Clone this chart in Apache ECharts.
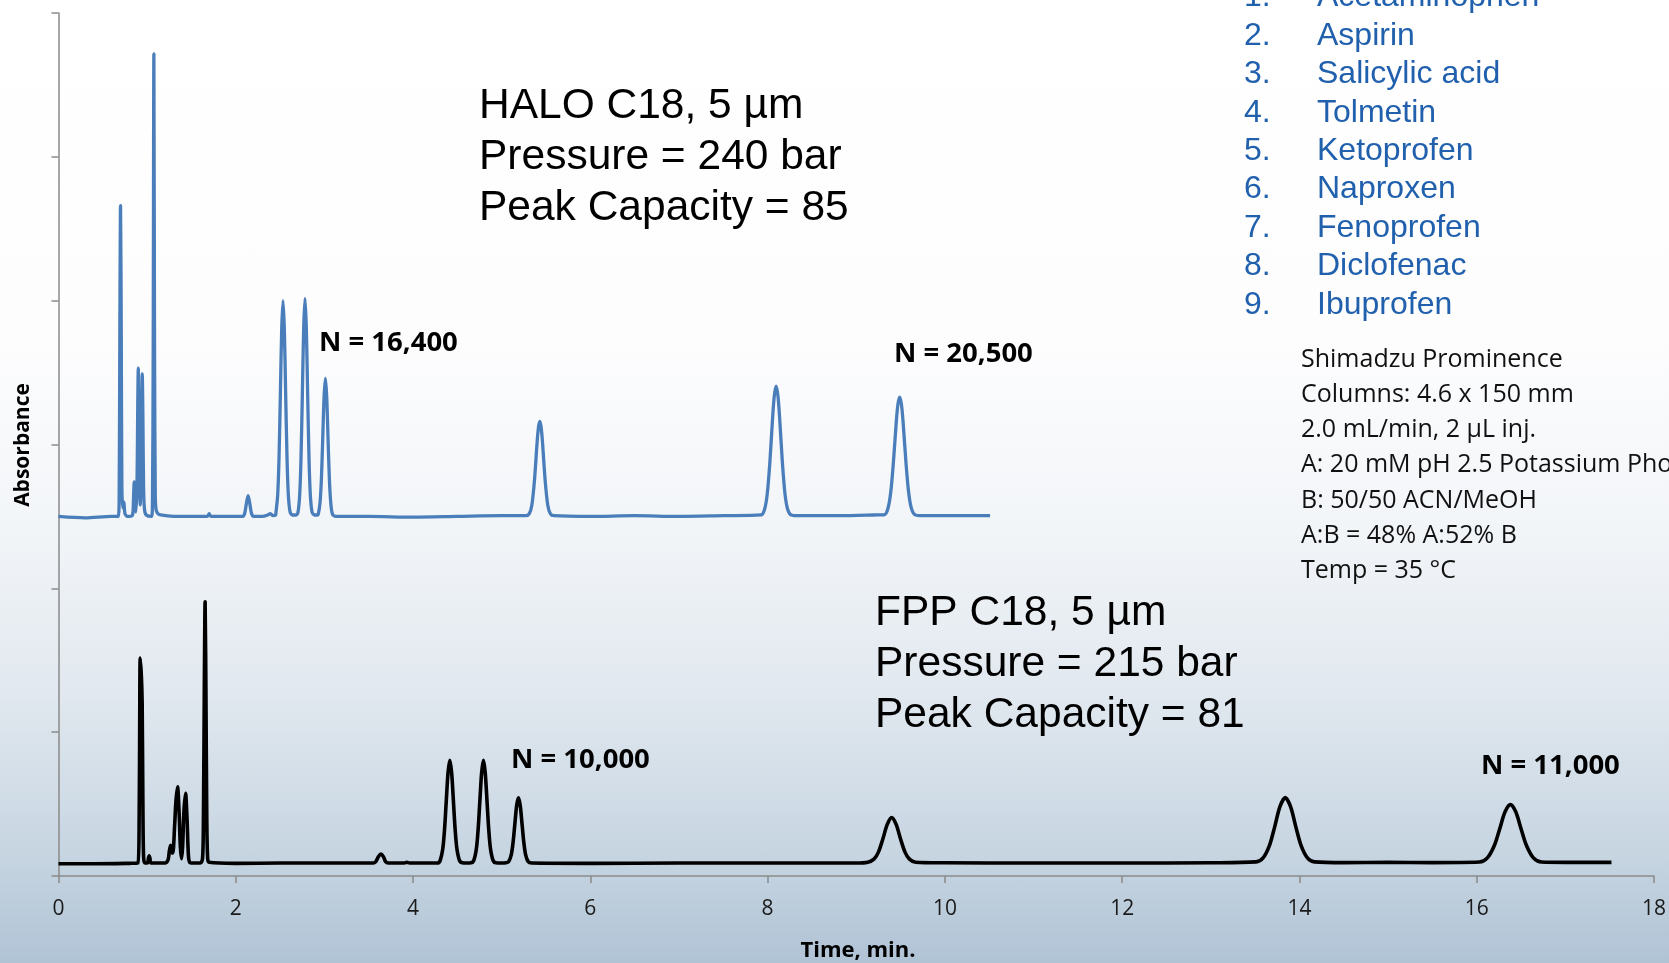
<!DOCTYPE html>
<html><head><meta charset="utf-8">
<script src="https://cdn.jsdelivr.net/npm/echarts@6/dist/echarts.min.js"></script>
<style>
html,body{margin:0;padding:0;width:1669px;height:963px;overflow:hidden;}
#c{width:1669px;height:963px;background:linear-gradient(to bottom,#ffffff 0%,#fdfdfe 35%,#f2f5f8 55%,#e1e8ef 72%,#c8d6e2 88%,#b0c3d5 100%);}
</style></head><body><div id="c"></div>
<script>
// HALO C18 trace: [time (min), absorbance (offset units)]
const haloTrace = [[0,2.50],[0.3,2.49],[0.6,2.50],[0.675,2.50],[0.685,2.70],[0.692,3.80],[0.70,4.66],[0.708,3.80],[0.715,2.70],[0.725,2.56],[0.738,2.60],[0.75,2.52],[0.78,2.50],[0.835,2.51],[0.845,2.60],[0.854,2.74],[0.863,2.60],[0.872,2.53],[0.885,2.70],[0.893,3.20],[0.90,3.53],[0.907,3.20],[0.914,2.80],[0.922,2.58],[0.93,2.80],[0.938,3.20],[0.945,3.49],[0.952,3.20],[0.96,2.70],[0.97,2.55],[0.99,2.51],[1.05,2.50],[1.06,2.60],[1.068,3.60],[1.076,5.715],[1.084,3.60],[1.092,2.65],[1.10,2.55],[1.12,2.52],[1.15,2.51],[1.3,2.50],[1.5,2.50],[1.68,2.50],[1.70,2.52],[1.72,2.50],[2.0,2.50],[2.08,2.50],[2.10,2.52],[2.12,2.59],[2.139,2.645],[2.158,2.59],[2.178,2.52],[2.20,2.50],[2.3,2.50],[2.36,2.51],[2.39,2.52],[2.42,2.505],[2.45,2.51],
[2.453,2.525],[2.473,2.65],[2.488,2.91],[2.503,3.345],[2.518,3.80],[2.533,4.00],[2.548,3.80],[2.563,3.345],[2.578,2.91],[2.593,2.65],[2.613,2.53],[2.64,2.51],[2.68,2.51],
[2.701,2.525],[2.721,2.65],[2.736,2.91],[2.751,3.345],[2.766,3.81],[2.781,4.015],[2.796,3.81],[2.811,3.345],[2.826,2.91],[2.841,2.65],[2.861,2.53],[2.89,2.51],[2.92,2.51],
[2.931,2.516],[2.951,2.60],[2.966,2.76],[2.981,3.04],[2.996,3.33],[3.011,3.46],[3.026,3.33],[3.041,3.04],[3.056,2.76],[3.071,2.60],[3.091,2.516],[3.13,2.50],
[3.5,2.50],[4.0,2.495],[4.5,2.50],[5.0,2.505],[5.27,2.505],
[5.31,2.518],[5.34,2.578],[5.37,2.753],[5.40,3.019],[5.415,3.12],[5.43,3.16],[5.445,3.12],[5.46,3.019],[5.49,2.753],[5.52,2.578],[5.55,2.518],[5.59,2.505],
[6.0,2.50],[6.5,2.505],[7.0,2.50],[7.5,2.505],[7.926,2.51],
[7.966,2.55],[7.996,2.657],[8.026,2.881],[8.056,3.182],[8.076,3.342],[8.096,3.405],[8.116,3.342],[8.136,3.182],[8.166,2.881],[8.196,2.657],[8.226,2.55],[8.266,2.51],[8.35,2.505],
[8.8,2.505],[9.2,2.51],[9.32,2.513],
[9.36,2.561],[9.39,2.673],[9.42,2.883],[9.45,3.144],[9.47,3.279],[9.49,3.33],[9.51,3.279],[9.53,3.144],[9.56,2.883],[9.59,2.673],[9.62,2.561],[9.66,2.513],[9.75,2.505],[10.2,2.505],[10.51,2.505]];

// FPP C18 trace
const fppTrace = [[0,0.085],[0.4,0.085],[0.8,0.088],[0.895,0.09],[0.91,0.40],[0.917,1.20],[0.922,1.515],[0.935,1.39],[0.944,1.20],[0.952,0.50],[0.96,0.13],[0.975,0.09],[1.005,0.092],[1.015,0.125],[1.023,0.14],[1.031,0.125],[1.045,0.09],[1.20,0.09],[1.235,0.11],[1.25,0.17],[1.264,0.214],[1.28,0.16],[1.29,0.16],[1.31,0.35],[1.325,0.52],[1.343,0.62],[1.36,0.45],[1.375,0.20],[1.388,0.12],[1.40,0.20],[1.415,0.45],[1.433,0.575],[1.45,0.40],[1.465,0.15],[1.48,0.095],[1.52,0.09],[1.60,0.09],[1.625,0.12],[1.635,0.40],[1.645,1.30],[1.654,1.907],[1.663,1.30],[1.673,0.40],[1.683,0.12],[1.70,0.095],[2.0,0.088],[2.5,0.09],[3.0,0.09],
[3.55,0.09],[3.58,0.10],[3.61,0.135],[3.637,0.153],[3.665,0.135],[3.69,0.10],[3.72,0.09],[3.90,0.09],[3.93,0.095],[3.96,0.09],
[4.275,0.09],[4.305,0.106],[4.335,0.187],[4.355,0.322],[4.375,0.524],[4.395,0.72],[4.415,0.805],[4.435,0.72],[4.455,0.524],[4.475,0.322],[4.495,0.187],[4.525,0.106],[4.555,0.092],[4.60,0.09],
[4.654,0.092],[4.684,0.106],[4.714,0.187],[4.734,0.322],[4.754,0.524],[4.774,0.72],[4.794,0.805],[4.814,0.72],[4.834,0.524],[4.854,0.322],[4.874,0.187],[4.904,0.106],[4.934,0.092],[4.99,0.09],
[5.049,0.092],[5.079,0.10],[5.109,0.151],[5.129,0.237],[5.149,0.365],[5.169,0.49],[5.189,0.543],[5.209,0.49],[5.229,0.365],[5.249,0.237],[5.269,0.151],[5.299,0.10],[5.339,0.09],
[6.0,0.088],[7.0,0.09],[8.0,0.09],[9.0,0.09],
[9.13,0.096],[9.20,0.117],[9.25,0.166],[9.30,0.257],[9.35,0.359],[9.40,0.406],[9.45,0.359],[9.50,0.257],[9.55,0.166],[9.60,0.117],[9.67,0.096],
[10.0,0.092],[11.0,0.09],[12.0,0.09],[13.0,0.092],
[13.51,0.098],[13.59,0.126],[13.66,0.209],[13.72,0.340],[13.78,0.482],[13.84,0.545],[13.90,0.482],[13.96,0.340],[14.02,0.209],[14.09,0.126],[14.17,0.098],
[14.5,0.093],[15.0,0.095],[15.5,0.093],
[16.03,0.097],[16.12,0.126],[16.20,0.214],[16.26,0.329],[16.32,0.446],[16.38,0.496],[16.44,0.446],[16.50,0.329],[16.56,0.214],[16.64,0.126],[16.73,0.097],[17.0,0.095],[17.52,0.095]];

const haloInfo = ['HALO C18, 5 µm', 'Pressure = 240 bar', 'Peak Capacity = 85'];
const fppInfo = ['FPP C18, 5 µm', 'Pressure = 215 bar', 'Peak Capacity = 81'];
const compounds = ['Acetaminophen','Aspirin','Salicylic acid','Tolmetin','Ketoprofen','Naproxen','Fenoprofen','Diclofenac','Ibuprofen'];
const conditions = ['Shimadzu Prominence','Columns: 4.6 x 150 mm','2.0 mL/min, 2 µL inj.','A: 20 mM pH 2.5 Potassium Phosphate','B: 50/50 ACN/MeOH','A:B = 48% A:52% B','Temp = 35 °C'];
const plateLabels = [
  {text:'N = 16,400', x:319, y:343},
  {text:'N = 20,500', x:894, y:354},
  {text:'N = 10,000', x:511, y:760},
  {text:'N = 11,000', x:1481, y:766}
];
const xTitle = 'Time, min.';
const yTitle = 'Absorbance';

const chart = echarts.init(document.getElementById('c'), null, {renderer:'canvas'});
const g = [];
function txt(text, x, y, font, fill, align, rot) {
  const el = {type:'text', x:x, y:y, z:10, style:{text:text, font:font, fill:fill, textAlign:align||'left', textVerticalAlign:'middle', align:align||'left', verticalAlign:'middle'}};
  if (rot) el.rotation = rot;
  g.push(el);
}
haloInfo.forEach((t,i)=>txt(t, 479, 106 + i*51, '42.5px "Liberation Sans", Arial, sans-serif', '#000'));
fppInfo.forEach((t,i)=>txt(t, 875, 613 + i*51, '42.5px "Liberation Sans", Arial, sans-serif', '#000'));
compounds.forEach((t,i)=>{
  txt((i+1)+'.', 1244, -2.5 + i*38.4, '32px "Liberation Sans", Arial, sans-serif', '#2060ad');
  txt(t, 1317, -2.5 + i*38.4, '32px "Liberation Sans", Arial, sans-serif', '#2060ad');
});
conditions.forEach((t,i)=>txt(t, 1301, 360 + i*35.1, '25px "Open Sans", sans-serif', '#111'));
plateLabels.forEach(p=>txt(p.text, p.x, p.y, 'bold 27.5px "Open Sans", sans-serif', '#000'));
txt(xTitle, 858, 951, 'bold 22px "Open Sans", sans-serif', '#000', 'center');
txt(yTitle, 23, 445, 'bold 21px "Open Sans", sans-serif', '#000', 'center', Math.PI/2);

chart.setOption({
  backgroundColor:'transparent',
  animation:false,
  grid:{left:58.5, right:13, top:13, bottom:87, containLabel:false},
  xAxis:{type:'value', min:0, max:18, interval:2,
    axisLine:{show:true, onZero:false, lineStyle:{color:'#8a8a8a', width:1.5}},
    axisTick:{show:true, inside:false, length:7, lineStyle:{color:'#8a8a8a', width:1.5}},
    axisLabel:{show:true, margin:23, color:'#1a1a1a', fontSize:21, fontFamily:'"Open Sans", sans-serif'},
    splitLine:{show:false}},
  yAxis:{type:'value', min:0, max:6, interval:1,
    axisLine:{show:true, onZero:false, lineStyle:{color:'#8a8a8a', width:1.5}},
    axisTick:{show:true, inside:false, length:7, lineStyle:{color:'#8a8a8a', width:1.5}},
    axisLabel:{show:false},
    splitLine:{show:false}},
  series:[
    {type:'line', name:'HALO C18', data:haloTrace, symbol:'none', smooth:0.3, lineStyle:{color:'#4a7ebb', width:3.3, join:'round'}, z:3},
    {type:'line', name:'FPP C18', data:fppTrace, symbol:'none', smooth:0.3, lineStyle:{color:'#000', width:3.6, join:'round'}, z:4}
  ],
  graphic:g
});
</script>
</body></html>
